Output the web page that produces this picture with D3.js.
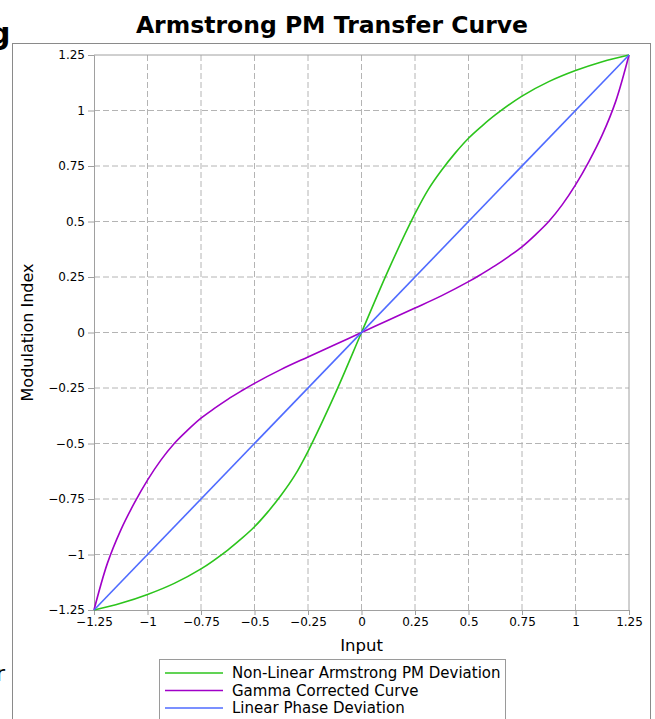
<!DOCTYPE html>
<html>
<head>
<meta charset="utf-8">
<script src="https://cdn.jsdelivr.net/npm/d3@7"></script>
<style>
  body { margin: 0; background: #fff; font-family: "DejaVu Sans", sans-serif; }
</style>
</head>
<body>
<div id="chart"></div>
<script>
// data (odd curves, mirrored for negative inputs)
const xTicks = [-1.25, -1, -0.75, -0.5, -0.25, 0, 0.25, 0.5, 0.75, 1, 1.25];
const yTicks = [-1.25, -1, -0.75, -0.5, -0.25, 0, 0.25, 0.5, 0.75, 1, 1.25];

const armX = [0, 0.125, 0.25, 0.3125, 0.375, 0.4375, 0.5, 0.5625, 0.625, 0.75, 0.875, 1, 1.125, 1.25];
const armY = [0, 0.28, 0.535, 0.645, 0.732, 0.808, 0.875, 0.93, 0.98, 1.065, 1.13, 1.18, 1.22, 1.25];

const gamX = [0, 0.125, 0.25, 0.375, 0.5, 0.5625, 0.625, 0.6875, 0.75, 0.8125, 0.875, 0.9375, 1, 1.0625, 1.125, 1.1875, 1.25];
const gamY = [0, 0.055, 0.11, 0.166, 0.229, 0.264, 0.301, 0.342, 0.386, 0.44, 0.50, 0.575, 0.665, 0.77, 0.89, 1.04, 1.25];

const linX = [-1.25, 1.25];
const linY = [-1.25, 1.25];

const seriesNames = ["Non-Linear Armstrong PM Deviation", "Gamma Corrected Curve", "Linear Phase Deviation"];
const seriesColors = ["#2cc41c", "#a000c8", "#4f6bff"];

function mirror(xs, ys) {
    const pts = [];
    for (let i = xs.length - 1; i > 0; i--) pts.push([-xs[i], -ys[i]]);
    for (let i = 0; i < xs.length; i++) pts.push([xs[i], ys[i]]);
    return pts;
}

const series = [
    mirror(armX, armY),
    mirror(gamX, gamY),
    linX.map((v, i) => [v, linY[i]])
];

const W = 655, H = 719;
const svg = d3.select("#chart").append("svg")
    .attr("width", W).attr("height", H);

// outer frame
svg.append("rect")
    .attr("x", 12.5).attr("y", 43.5)
    .attr("width", 638).attr("height", 700)
    .attr("fill", "none").attr("stroke", "#8a8a8a");

// clipped bits of neighbouring text at the left edge
svg.append("text").attr("x", -11).attr("y", 44)
    .style("font-size", "30px").style("font-weight", "bold").text("g");
svg.append("text").attr("x", -4).attr("y", 681)
    .style("font-size", "22px").text("r");

const x = d3.scaleLinear().domain([-1.25, 1.25]).range([94, 629]);
const y = d3.scaleLinear().domain([-1.25, 1.25]).range([610, 55]);

const fmt = d => d3.format("")(d).replace("-", "\u2212");

// grid
svg.append("g").selectAll("line")
    .data(xTicks.slice(1, -1))
    .join("line")
    .attr("x1", d => x(d)).attr("x2", d => x(d))
    .attr("y1", y(1.25)).attr("y2", y(-1.25))
    .attr("stroke", "#b4b4b4").attr("stroke-dasharray", "6,3");
svg.append("g").selectAll("line")
    .data(yTicks.slice(1, -1))
    .join("line")
    .attr("y1", d => y(d)).attr("y2", d => y(d))
    .attr("x1", x(-1.25)).attr("x2", x(1.25))
    .attr("stroke", "#b4b4b4").attr("stroke-dasharray", "6,3");

// axes
const xAxis = svg.append("g")
    .attr("transform", `translate(0,${y(-1.25)})`)
    .call(d3.axisBottom(x).tickValues(xTicks).tickFormat(fmt).tickSize(5).tickPadding(2));
const yAxis = svg.append("g")
    .attr("transform", `translate(${x(-1.25)},0)`)
    .call(d3.axisLeft(y).tickValues(yTicks).tickFormat(fmt).tickSize(6).tickPadding(3));
[xAxis, yAxis].forEach(a => {
    a.select(".domain").attr("stroke", "#a0a0a0");
    a.selectAll(".tick line").attr("stroke", "#a0a0a0");
    a.selectAll("text").attr("fill", "#000")
        .style("font-family", "DejaVu Sans").style("font-size", "12px");
});

// top and right spines
svg.append("line").attr("x1", x(-1.25)).attr("x2", x(1.25))
    .attr("y1", y(1.25)).attr("y2", y(1.25)).attr("stroke", "#a0a0a0");
svg.append("line").attr("x1", x(1.25)).attr("x2", x(1.25))
    .attr("y1", y(1.25)).attr("y2", y(-1.25)).attr("stroke", "#a0a0a0");

// curves
const line = d3.line()
    .x(d => x(d[0])).y(d => y(d[1]))
    .curve(d3.curveCatmullRom.alpha(0.5));
svg.append("g").selectAll("path")
    .data(series)
    .join("path")
    .attr("d", line)
    .attr("fill", "none")
    .attr("stroke", (d, i) => seriesColors[i])
    .attr("stroke-width", 1.6);

// title and labels
svg.append("text")
    .attr("x", 332).attr("y", 33)
    .attr("text-anchor", "middle")
    .style("font-size", "23.5px").style("font-weight", "bold")
    .text("Armstrong PM Transfer Curve");
svg.append("text")
    .attr("x", 361.5).attr("y", 651)
    .attr("text-anchor", "middle")
    .style("font-size", "16.5px")
    .text("Input");
svg.append("text")
    .attr("transform", `translate(33,${y(0)}) rotate(-90)`)
    .attr("text-anchor", "middle")
    .style("font-size", "16px")
    .text("Modulation Index");

// legend
const leg = svg.append("g");
leg.append("rect")
    .attr("x", 159.5).attr("y", 659.5)
    .attr("width", 346).attr("height", 80)
    .attr("fill", "#fff").attr("stroke", "#9a9a9a");
const items = leg.selectAll("g.item")
    .data(seriesNames)
    .join("g")
    .attr("class", "item")
    .attr("transform", (d, i) => `translate(0,${673 + i * 17.5})`);
items.append("line")
    .attr("x1", 165).attr("x2", 223)
    .attr("stroke", (d, i) => seriesColors[i])
    .attr("stroke-width", 1.6);
items.append("text")
    .attr("x", 232).attr("y", 5)
    .style("font-size", "15px")
    .text(d => d);
</script>
</body>
</html>
